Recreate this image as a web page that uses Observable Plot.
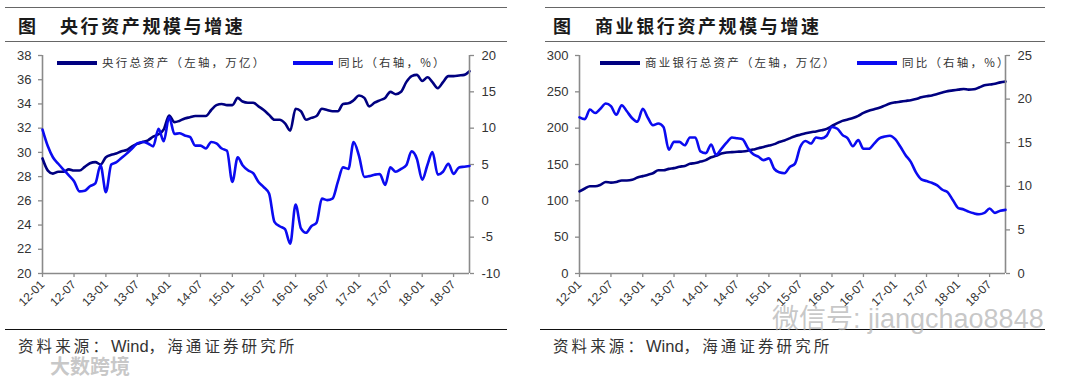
<!DOCTYPE html>
<html><head><meta charset="utf-8">
<script src="https://cdn.jsdelivr.net/npm/d3@7"></script>
<script src="https://cdn.jsdelivr.net/npm/@observablehq/plot@0.6"></script>
<style>
body{margin:0;background:#fff;}
#root{position:relative;width:1080px;height:378px;overflow:hidden;background:#fff;font-family:"Noto Sans CJK SC","Noto Sans",sans-serif;}
.rule{position:absolute;height:0;}
.rg{border-top:1.6px solid #666;}
.rb{border-top:1.4px solid #111;}
.title{position:absolute;top:11px;font-size:18px;font-weight:700;letter-spacing:2.6px;color:#1a1a1a;line-height:28px;white-space:nowrap;}
.plot{position:absolute;top:45px;}
.leg{position:absolute;top:53px;font-size:11.5px;letter-spacing:2.2px;color:#333;line-height:18px;white-space:nowrap;}
.sw{display:inline-block;width:40px;height:4px;vertical-align:middle;margin-right:5px;position:relative;top:-1px;}
.src{position:absolute;top:334px;font-size:15.5px;letter-spacing:3.1px;color:#333;white-space:nowrap;line-height:22px;}
.src .w{font-family:"Liberation Sans",Arial,sans-serif;letter-spacing:0;font-size:16.5px;}
.wm{position:absolute;white-space:nowrap;color:rgba(175,175,175,0.7);font-family:"Liberation Sans","Noto Sans CJK SC",sans-serif;line-height:1;}
</style>
</head><body>
<div id="root">
  <div class="rule rg" style="left:5px;width:502px;top:7px"></div>
  <div class="rule rg" style="left:5px;width:502px;top:41px"></div>
  <div class="rule rb" style="left:5px;width:502px;top:329px"></div>
  <div class="rule rg" style="left:545px;width:500px;top:7px"></div>
  <div class="rule rg" style="left:545px;width:500px;top:41px"></div>
  <div class="rule rb" style="left:540px;width:505px;top:329px"></div>
  <div class="title" style="left:18px">图</div>
  <div class="title" style="left:60px" id="t1"></div>
  <div class="title" style="left:553px">图</div>
  <div class="title" style="left:595px" id="t2"></div>
  <div id="p1a" class="plot" style="left:0px"></div>
  <div id="p1b" class="plot" style="left:0px"></div>
  <div id="p2a" class="plot" style="left:537px"></div>
  <div id="p2b" class="plot" style="left:537px"></div>
  <div class="leg" style="left:57px"><span class="sw" style="background:#000080"></span><span id="l1a"></span></div>
  <div class="leg" style="left:293px"><span class="sw" style="background:#0b0bf0"></span><span id="l1b"></span></div>
  <div class="leg" style="left:600px"><span class="sw" style="background:#000080"></span><span id="l2a"></span></div>
  <div class="leg" style="left:857px"><span class="sw" style="background:#0b0bf0"></span><span id="l2b"></span></div>
  <div class="src" style="left:18px">资料来源：<span class="w">Wind</span>，海通证券研究所</div>
  <div class="src" style="left:553px">资料来源：<span class="w">Wind</span>，海通证券研究所</div>
  <div class="wm" style="left:50px;top:357px;font-size:20px;font-weight:700">大数跨境</div>
  <div class="wm" style="left:772px;top:306px;font-size:27px">微信号: jiangchao8848</div>
</div>
<script>
// ---------- data ----------
const titles = ["央行资产规模与增速", "商业银行资产规模与增速"];
const legendNames = ["央行总资产（左轴，万亿）", "同比（右轴，%）", "商业银行总资产（左轴，万亿）", "同比（右轴，%）"];
const xTickLabels = ["12-01","12-07","13-01","13-07","14-01","14-07","15-01","15-07","16-01","16-07","17-01","17-07","18-01","18-07"];
const firstMonth = "2012-01", lastMonth = "2018-10";

// 央行总资产（万亿）, monthly 2012-01 .. 2018-10
const pbocAssets = [29.5,28.5,28.25,28.4,28.4,28.6,28.5,28.5,28.8,29.1,
 29.2,29.0,29.6,29.8,29.9,30.1,30.2,30.5,30.7,30.85,
 31.0,31.3,31.5,31.9,33.05,32.5,32.6,32.8,32.9,33.0,
 33.0,33.0,33.5,33.9,34.0,33.9,33.9,34.5,34.2,34.1,
 34.1,33.8,33.5,33.1,32.7,32.7,32.4,31.8,33.6,33.4,
 32.7,32.85,33.0,33.6,33.5,33.4,33.4,34.0,34.05,34.3,
 34.7,34.5,33.8,34.1,34.3,34.5,35.0,34.8,35.0,35.8,
 36.3,36.4,35.9,36.2,35.8,35.3,35.8,36.3,36.3,36.35,
 36.4,36.7];
// 央行总资产同比（%）
const pbocYoY = [9.8,7.5,6.0,5.1,4.3,3.5,2.7,1.3,1.4,2.0,
 2.4,4.9,1.2,5.0,5.3,5.9,6.5,7.2,7.9,8.1,
 7.9,7.5,9.9,8.2,11.5,9.2,9.3,9.0,8.8,7.6,
 7.6,7.2,8.1,7.9,7.2,6.9,2.6,6.0,4.9,4.2,
 3.8,2.6,1.9,1.0,-2.9,-3.5,-3.9,-5.9,-0.5,-3.8,
 -4.4,-3.5,-3.0,0.3,0.1,0.3,2.6,4.6,4.4,8.1,
 6.2,3.3,3.4,3.6,3.7,2.2,4.6,4.0,4.4,4.9,
 6.8,5.8,2.9,5.0,6.7,3.6,4.0,5.1,3.7,4.6,
 4.7,4.8];
// 商业银行总资产（万亿）
const bankAssets = [113,117,120,120,122,126,125,126,128,128,
 129,132,134,136,138,142,142,144,145,147,
 148,151,152,154,156,160,162,165,166.5,167,
 167.5,168,169,170.5,172.5,174,176,178,181,183,
 186,189,191,193,194.5,195.5,197,199,203,207,
 210,212,214,217,221,224,226,228,231,234,
 235.5,236.5,237.5,238.5,240,242.5,244,245,247,249,
 251,252,253,254,253,253.5,256,259,260,261,
 263,264];
// 商业银行总资产同比（%）
const bankYoY = [17.9,17.7,18.8,18.4,18.9,19.5,19.2,18.2,19.3,18.6,
 17.8,17.4,18.9,17.8,17.0,17.2,16.8,14.2,15.1,15.1,
 14.7,15.6,15.6,14.0,13.8,14.8,13.6,14.3,15.0,15.6,
 15.5,15.4,14.4,13.7,13.4,13.0,13.2,12.0,11.6,11.5,
 12.2,12.6,14.5,15.2,14.9,15.6,15.5,15.8,16.8,16.6,
 15.9,15.5,14.6,15.3,14.3,14.3,14.9,15.5,15.7,15.8,
 15.4,14.5,13.6,12.8,11.6,10.8,10.6,10.4,10.1,9.6,
 9.3,8.4,7.5,7.35,7.1,6.9,6.8,6.95,7.45,6.95,
 7.2,7.3];

const pbocLeftTicks = [20,22,24,26,28,30,32,34,36,38];
const pbocRightTicks = [-10,-5,0,5,10,15,20];
const bankLeftTicks = [0,50,100,150,200,250,300];
const bankRightTicks = [0,5,10,15,20,25];

// ---------- build ----------
const parseYM = d3.utcParse("%Y-%m");
const x0 = parseYM(firstMonth), x1 = parseYM(lastMonth);
const months = d3.utcMonth.range(x0, d3.utcMonth.offset(x1, 1));
const tickDates = xTickLabels.map(d3.utcParse("%y-%m"));
const NAVY = "#000080", BLUE = "#0b0bf0", AXIS = "#8a8a8a";

document.getElementById("t1").textContent = titles[0];
document.getElementById("t2").textContent = titles[1];
["l1a","l1b","l2a","l2b"].forEach((id, i) => document.getElementById(id).textContent = legendNames[i]);

function panel(elA, elB, leftVals, rightVals, leftTicks, rightTicks, W, mR) {
  const common = {
    width: W, height: 285, marginLeft: 42, marginRight: mR, marginTop: 10, marginBottom: 57,
    style: {fontFamily: "'Liberation Sans', Arial, sans-serif", fontSize: "13px", color: "#333", background: "transparent", overflow: "visible"}
  };
  const dataL = months.map((d, i) => ({date: d, v: leftVals[i]}));
  const dataR = months.map((d, i) => ({date: d, v: rightVals[i]}));
  const lo = leftTicks[0], hi = leftTicks[leftTicks.length - 1];
  const ro = rightTicks[0], rhi = rightTicks[rightTicks.length - 1];
  const a = Plot.plot({
    ...common,
    x: {type: "utc", domain: [x0, x1]},
    y: {domain: [lo, hi]},
    marks: [
      Plot.axisY(leftTicks, {anchor: "left", tickSize: 4, tickPadding: 7, stroke: AXIS, strokeWidth: 1.3, tickFormat: d => String(d), label: null}),
      Plot.axisX(tickDates, {anchor: "bottom", tickSize: 4, tickPadding: 5, stroke: AXIS, strokeWidth: 1.3, tickRotate: -45, fontSize: 12, tickFormat: d3.utcFormat("%y-%m"), label: null}),
      Plot.ruleX([x0], {stroke: AXIS, strokeWidth: 1.6}),
      Plot.ruleY([lo], {stroke: AXIS, strokeWidth: 1.6}),
      Plot.lineY(dataL, {x: "date", y: "v", stroke: NAVY, strokeWidth: 2.6, curve: "monotone-x"})
    ]
  });
  const b = Plot.plot({
    ...common,
    x: {type: "utc", domain: [x0, x1], axis: null},
    y: {domain: [ro, rhi]},
    marks: [
      Plot.axisY(rightTicks, {anchor: "right", tickSize: 4, tickPadding: 8, stroke: AXIS, strokeWidth: 1.3, tickFormat: d => String(d), label: null}),
      Plot.ruleX([x1], {stroke: AXIS, strokeWidth: 1.6}),
      Plot.lineY(dataR, {x: "date", y: "v", stroke: BLUE, strokeWidth: 2.6, curve: "monotone-x"})
    ]
  });
  document.getElementById(elA).appendChild(a);
  document.getElementById(elB).appendChild(b);
}
panel("p1a", "p1b", pbocAssets, pbocYoY, pbocLeftTicks, pbocRightTicks, 540, 71);
panel("p2a", "p2b", bankAssets, bankYoY, bankLeftTicks, bankRightTicks, 543, 75);
</script>
</body></html>
